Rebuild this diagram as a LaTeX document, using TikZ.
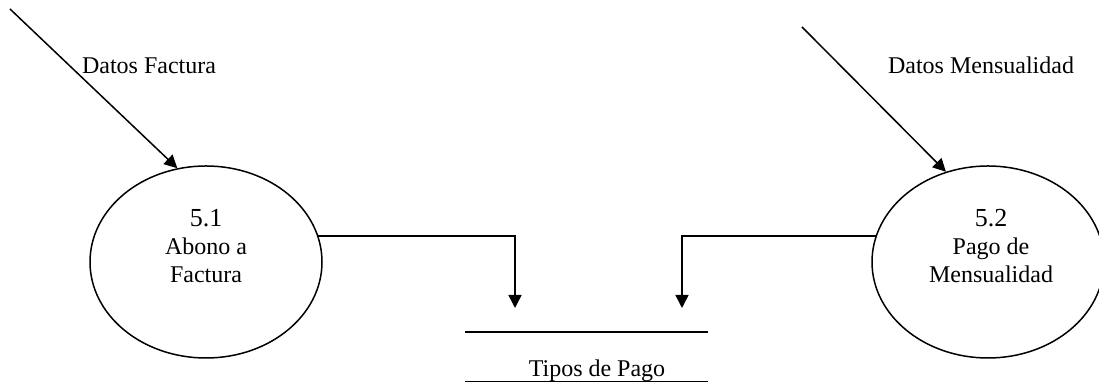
\documentclass[tikz,border=0pt]{standalone}
\usepackage{fontspec}
\setmainfont{Liberation Serif}
\usetikzlibrary{shapes.geometric,arrows.meta}

\tikzset{
  proc/.style={draw, ellipse, minimum width=116pt, minimum height=96pt, inner sep=0pt},
  proctext/.style={align=center, inner sep=0pt, font=\fontsize{12}{14}\selectfont},
  flowlabel/.style={inner sep=0pt, font=\fontsize{12}{14}\selectfont},
  flow/.style={-{Triangle[length=6.5pt,width=6.5pt]}}
}

\begin{document}
\begin{tikzpicture}[x=0.5pt, y=-0.5pt, line width=0.75pt]
  \useasboundingbox (0,0) rectangle (1099,383);

  % procesos
  \node[proc] (p51) at (206,262) {};
  \node[proc] (p52) at (988,262) {};
  \node[proctext] (t51) at (206,246) {{\fontsize{13}{14}\selectfont 5.1}\\Abono a\\Factura};
  \node[proctext] (t52) at (991,246) {{\fontsize{13}{14}\selectfont 5.2}\\Pago de\\Mensualidad};

  % almacen
  \node[minimum width=120.5pt, minimum height=24pt, inner sep=0pt] (store) at (586.5,357) {};
  \draw (store.north west) -- (store.north east);
  \draw (store.south west) -- (store.south east);
  \node[flowlabel, anchor=base] (tstore) at (597,377) {Tipos de Pago};

  \coordinate (src51) at (10,9);
  \coordinate (src52) at (802,27);
  \coordinate (in51) at (515,308);
  \coordinate (in52) at (682,308);

  % flujos
  \draw[flow] (src51) -- (p51.107);
  \draw[flow] (src52) -- (p52.115);
  \draw[flow] (p51.13) -| (in51);
  \draw[flow] (p52.167) -| (in52);
  \node[flowlabel, anchor=base] (lf51) at (149,74) {Datos Factura};
  \node[flowlabel, anchor=base] (lf52) at (981,74) {Datos Mensualidad};
\end{tikzpicture}
\end{document}
